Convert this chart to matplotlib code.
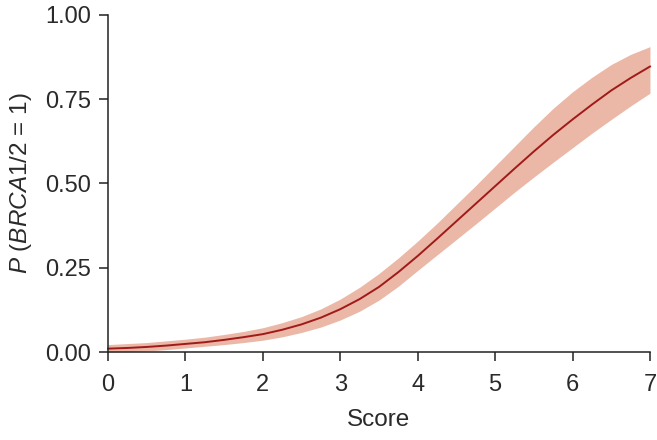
import numpy as np
import matplotlib
matplotlib.use("Agg")
import matplotlib.pyplot as plt

plt.rcParams['font.family'] = ['Liberation Sans', 'DejaVu Sans']
plt.rcParams['mathtext.fontset'] = 'custom'
plt.rcParams['mathtext.rm'] = 'Liberation Sans'
plt.rcParams['mathtext.it'] = 'Liberation Sans:italic'

# values
score = [0, 0.25, 0.5, 0.75, 1, 1.25, 1.5, 1.75, 2, 2.25, 2.5, 2.75, 3,
         3.25, 3.5, 3.75, 4, 4.25, 4.5, 4.75, 5, 5.25, 5.5, 5.75, 6,
         6.25, 6.5, 6.75, 7]
prob = [0.010, 0.012, 0.015, 0.019, 0.024, 0.029, 0.036, 0.044, 0.053,
        0.066, 0.082, 0.102, 0.127, 0.157, 0.193, 0.237, 0.285, 0.336,
        0.388, 0.44, 0.492, 0.544, 0.595, 0.644, 0.69, 0.734, 0.776,
        0.813, 0.847]
lower = [0.0, 0.001, 0.003, 0.007, 0.012, 0.017, 0.022, 0.028, 0.035,
         0.045, 0.058, 0.074, 0.095, 0.121, 0.154, 0.195, 0.242, 0.288,
         0.334, 0.38, 0.427, 0.474, 0.519, 0.563, 0.606, 0.649, 0.69,
         0.73, 0.768]
upper = [0.022, 0.025, 0.028, 0.033, 0.038, 0.044, 0.052, 0.061, 0.072,
         0.087, 0.105, 0.128, 0.157, 0.192, 0.233, 0.279, 0.329, 0.382,
         0.438, 0.494, 0.552, 0.61, 0.668, 0.723, 0.772, 0.815, 0.853,
         0.883, 0.906]

xticks = [0, 1, 2, 3, 4, 5, 6, 7]
yticks = [0.0, 0.25, 0.5, 0.75, 1.0]
ytick_labels = ["0.00", "0.25", "0.50", "0.75", "1.00"]

fig = plt.figure(figsize=(6.57, 4.40), dpi=100)
ax = fig.add_axes([0.1644, 0.2, 0.9893 - 0.1644, 0.966 - 0.2])

ax.fill_between(score, lower, upper, color="#ebb7a6", linewidth=0, clip_on=False)
ax.plot(score, prob, color="#a01a1a", linewidth=1.4, clip_on=False)

ax.set_xlim(0, 7)
ax.set_ylim(0, 1)
ax.set_xticks(xticks)
ax.set_yticks(yticks)
ax.set_yticklabels(ytick_labels)

for side in ["top", "right"]:
    ax.spines[side].set_visible(False)
for side in ["left", "bottom"]:
    ax.spines[side].set_linewidth(1.1)
    ax.spines[side].set_color("#222222")

ax.tick_params(axis="both", direction="out", length=6.5, width=1.1,
               color="#222222", labelsize=17, labelcolor="#2a2a2a")
ax.tick_params(axis="x", pad=9)
ax.tick_params(axis="y", pad=6)

ax.set_xlabel("Score", fontsize=17.5, color="#2a2a2a", labelpad=10)
ax.set_ylabel(r"$\it{P}$ ($\it{BRCA1/2}$ = 1)", fontsize=17.5,
              color="#2a2a2a", labelpad=8)

fig.savefig("out.png", dpi=100)
